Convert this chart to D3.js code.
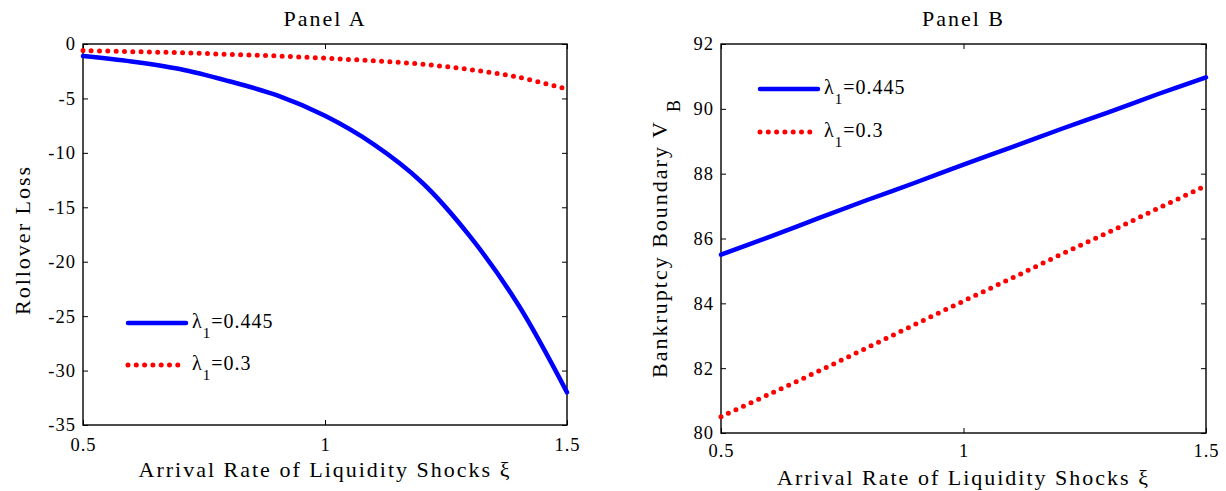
<!DOCTYPE html>
<html>
<head>
<meta charset="utf-8">
<script src="https://cdn.jsdelivr.net/npm/d3@7"></script>
<style>
  body { margin: 0; background: #fff; }
  svg { display: block; font-family: "Liberation Serif", "Times New Roman", serif; }
  .tick text { font-family: "Liberation Serif", "Times New Roman", serif; font-size: 18.5px; letter-spacing: 1px; fill: #000; }
  .labelText { font-size: 22px; letter-spacing: 2px; fill: #000; }
  .legendText { font-size: 20px; letter-spacing: 1px; fill: #000; }
</style>
</head>
<body>
<svg id="chart" width="1226" height="491"></svg>
<script>
// arrival rate of liquidity shocks
const xi = [0.5, 0.6, 0.7, 0.8, 0.9, 1.0, 1.1, 1.2, 1.3, 1.4, 1.5];

// panel A: rollover loss
const lossHigh = [-1.1, -1.6, -2.3, -3.4, -4.7, -6.6, -9.2, -12.7, -17.7, -24.0, -32.0];
const lossLow = [-0.6, -0.7, -0.8, -0.95, -1.1, -1.3, -1.55, -1.85, -2.35, -3.05, -4.15];

// panel B: bankruptcy boundary
const boundaryHigh = [85.5, 86.05, 86.62, 87.18, 87.72, 88.28, 88.82, 89.37, 89.9, 90.45, 90.97];
const boundaryLow = [80.5, 81.2, 81.9, 82.62, 83.35, 84.07, 84.78, 85.5, 86.2, 86.92, 87.63];

const xTicks = [0.5, 1, 1.5];
const lossTicks = [0, -5, -10, -15, -20, -25, -30, -35];
const boundaryTicks = [80, 82, 84, 86, 88, 90, 92];
const lambdaLabels = ['0.445', '0.3'];

const svg = d3.select('#chart');

const drawPanel = (p) => {
  const x = d3.scaleLinear().domain([0.5, 1.5]).range(p.xRange);
  const y = d3.scaleLinear().domain(p.yDomain).range(p.yRange);
  const g = svg.append('g');
  const top = y.range()[1];
  const bottom = y.range()[0];
  const fmt = (d) => String(d);

  g.append('g')
    .attr('transform', `translate(0, ${bottom})`)
    .call(d3.axisBottom(x).tickValues(xTicks).tickSize(-5).tickPadding(p.xPad).tickFormat(fmt))
    .call((a) => a.select('.domain').remove());

  g.append('g')
    .attr('transform', `translate(0, ${top})`)
    .call(d3.axisTop(x).tickValues(xTicks).tickSize(-5).tickFormat(''))
    .call((a) => a.select('.domain').remove());

  g.append('g')
    .attr('transform', `translate(${p.xRange[0]}, 0)`)
    .call(d3.axisLeft(y).tickValues(p.yTicks).tickSize(-5).tickPadding(7).tickFormat(fmt))
    .call((a) => a.select('.domain').remove());

  g.append('g')
    .attr('transform', `translate(${p.xRange[1]}, 0)`)
    .call(d3.axisRight(y).tickValues(p.yTicks).tickSize(-5).tickFormat(''))
    .call((a) => a.select('.domain').remove());

  g.selectAll('.tick line').attr('stroke', '#000');

  g.append('rect')
    .attr('x', p.xRange[0])
    .attr('y', top)
    .attr('width', p.xRange[1] - p.xRange[0])
    .attr('height', bottom - top)
    .attr('fill', 'none')
    .attr('stroke', '#000')
    .attr('stroke-width', 1.4);

  const line = d3.line()
    .x((d, i) => x(xi[i]))
    .y((d) => y(d))
    .curve(d3.curveCatmullRom);

  g.append('path')
    .attr('d', line(p.low))
    .attr('fill', 'none')
    .attr('stroke', '#ff0000')
    .attr('stroke-width', 5)
    .attr('stroke-linecap', 'round')
    .attr('stroke-dasharray', '0 8.3');

  g.append('path')
    .attr('d', line(p.high))
    .attr('fill', 'none')
    .attr('stroke', '#0000ff')
    .attr('stroke-width', 4.5)
    .attr('stroke-linecap', 'round');

  // titles
  g.append('text')
    .attr('class', 'labelText')
    .attr('x', (p.xRange[0] + p.xRange[1]) / 2)
    .attr('y', 26)
    .attr('text-anchor', 'middle')
    .text(p.title);

  g.append('text')
    .attr('class', 'labelText')
    .attr('x', (p.xRange[0] + p.xRange[1]) / 2)
    .attr('y', p.xTitleY)
    .attr('text-anchor', 'middle')
    .text('Arrival Rate of Liquidity Shocks ξ');

  const yTitle = g.append('text')
    .attr('class', 'labelText')
    .attr('transform', `translate(${p.yTitle.x}, ${p.yTitle.y}) rotate(-90)`)
    .attr('text-anchor', p.yTitle.anchor)
    .text(p.yTitle.text);
  if (p.yTitle.sub) {
    yTitle.append('tspan')
      .attr('dx', 8)
      .attr('dy', 13)
      .style('font-size', '18px')
      .text(p.yTitle.sub);
  }

  // legend
  const legend = g.append('g');
  const lx = p.legend.x;
  legend.append('line')
    .attr('x1', lx).attr('x2', lx + 58)
    .attr('y1', p.legend.y[0]).attr('y2', p.legend.y[0])
    .attr('stroke', '#0000ff').attr('stroke-width', 4.5).attr('stroke-linecap', 'round');
  legend.append('line')
    .attr('x1', lx).attr('x2', lx + 56)
    .attr('y1', p.legend.y[1]).attr('y2', p.legend.y[1])
    .attr('stroke', '#ff0000').attr('stroke-width', 5).attr('stroke-linecap', 'round')
    .attr('stroke-dasharray', '0 8.3');

  lambdaLabels.forEach((lab, i) => {
    const t = legend.append('text')
      .attr('class', 'legendText')
      .attr('x', lx + 64)
      .attr('y', p.legend.y[i] + 5)
      .text('λ');
    t.append('tspan').attr('dy', 10).style('font-size', '15px').text('1');
    t.append('tspan').attr('dy', -10).text('=' + lab);
  });
};

drawPanel({
  title: 'Panel A',
  xRange: [83, 567],
  yDomain: [-35, 0],
  yRange: [425, 44],
  yTicks: lossTicks,
  xPad: 13,
  xTitleY: 477,
  high: lossHigh,
  low: lossLow,
  yTitle: { x: 30, y: 240, anchor: 'middle', text: 'Rollover Loss' },
  legend: { x: 128, y: [323, 365] }
});

drawPanel({
  title: 'Panel B',
  xRange: [721, 1206],
  yDomain: [80, 92],
  yRange: [433, 44],
  yTicks: boundaryTicks,
  xPad: 11,
  xTitleY: 485,
  high: boundaryHigh,
  low: boundaryLow,
  yTitle: { x: 667, y: 378, anchor: 'start', text: 'Bankruptcy Boundary V', sub: 'B' },
  legend: { x: 760, y: [89, 132] }
});
</script>
</body>
</html>
